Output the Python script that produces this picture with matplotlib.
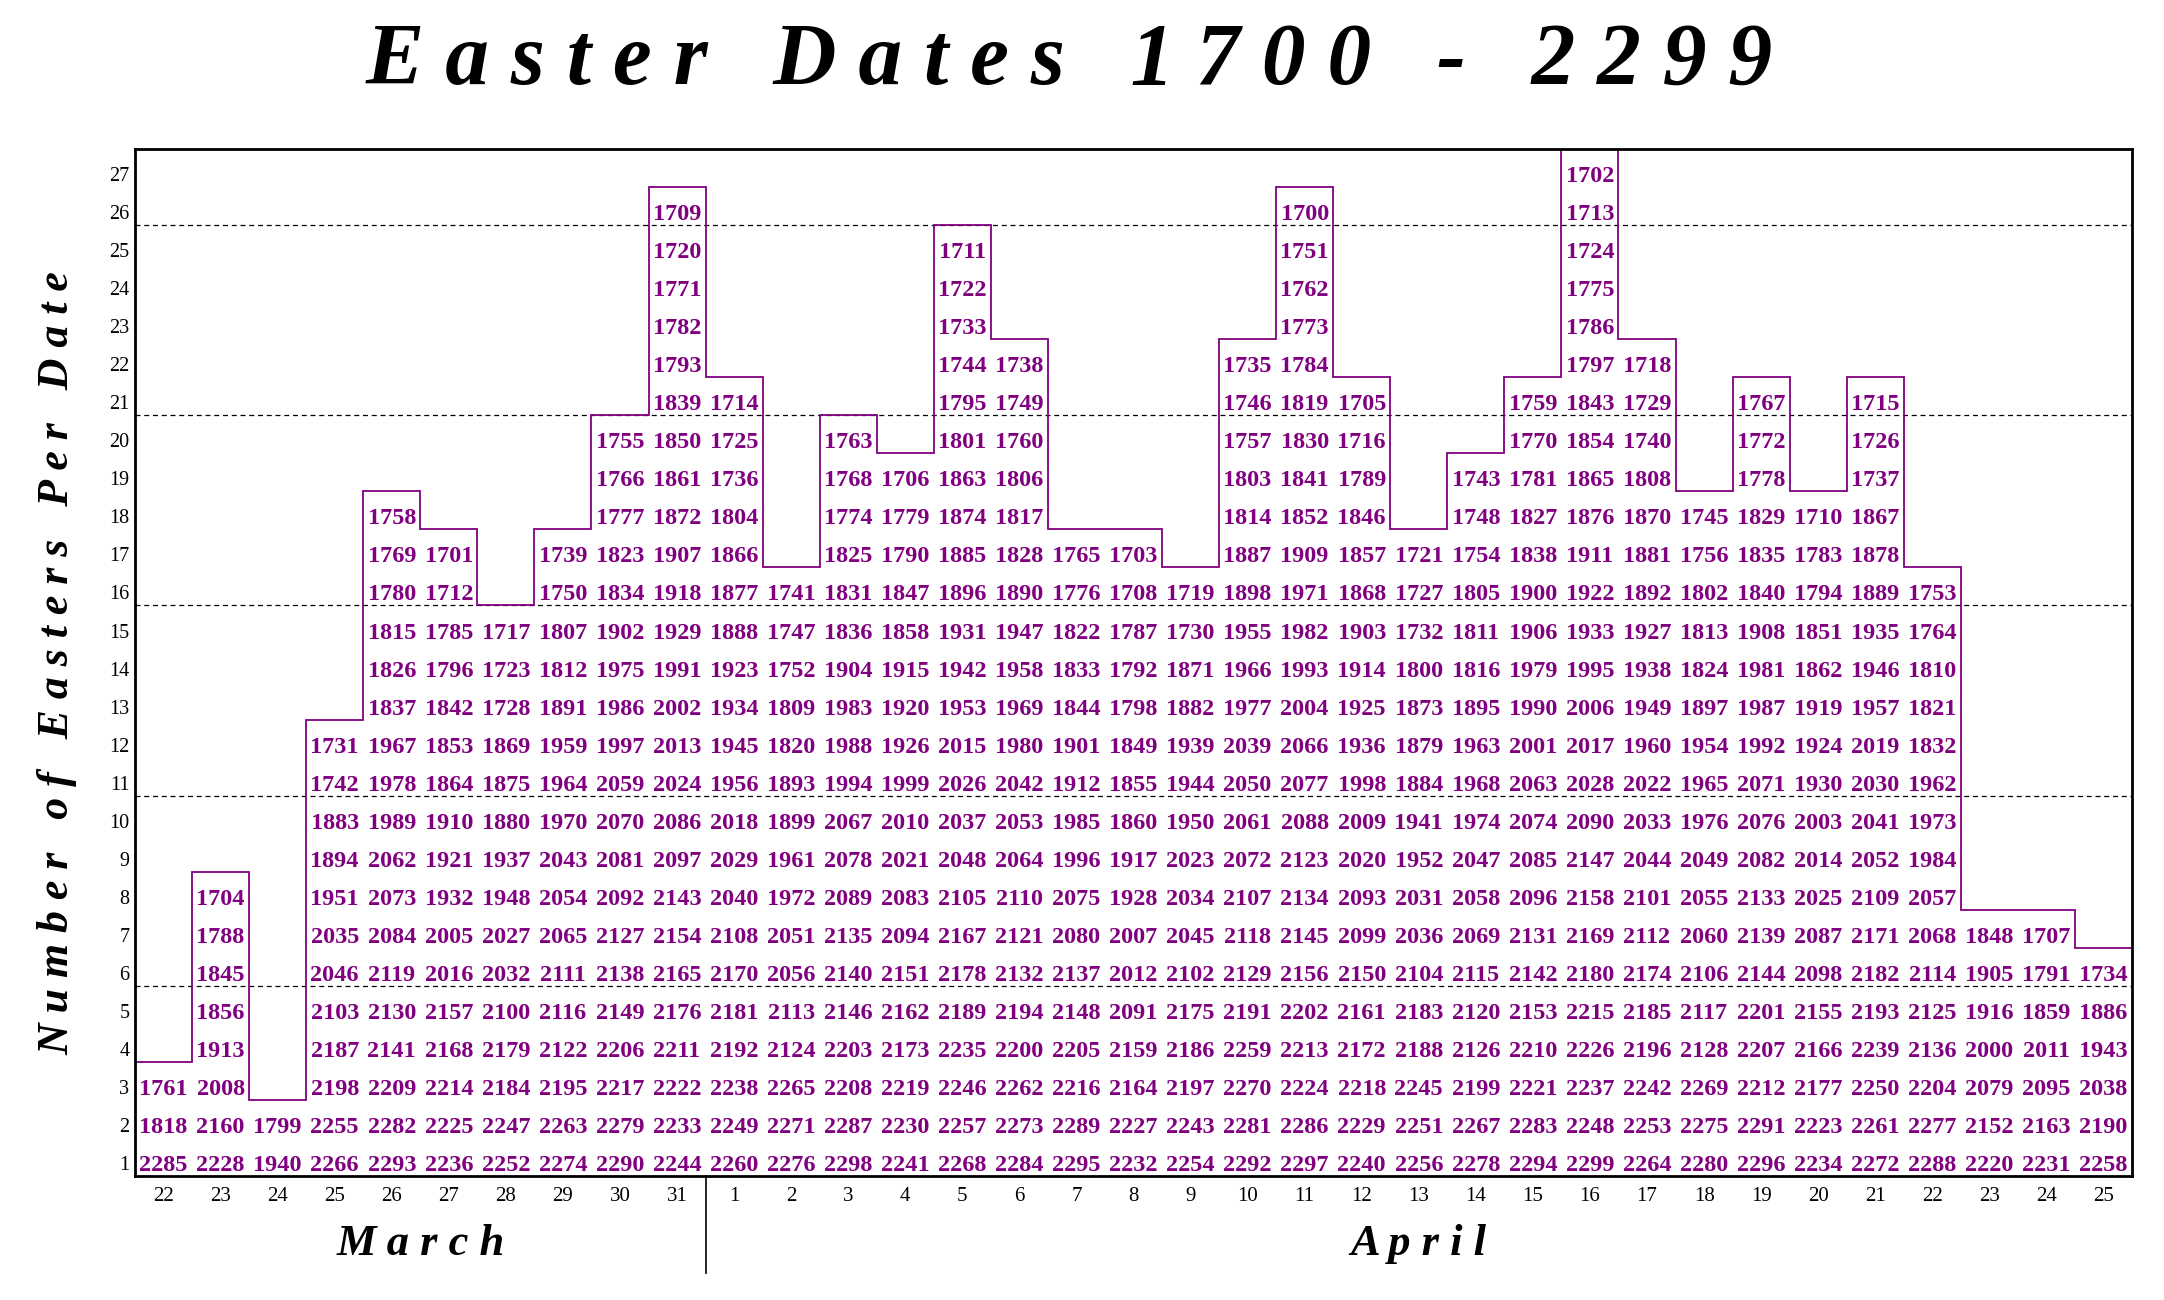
import matplotlib
matplotlib.use("Agg")
import matplotlib.pyplot as plt
import numpy as np
from matplotlib.transforms import blended_transform_factory

PURPLE = "#800080"
SERIF = "Liberation Serif"

MARCH_DAYS = [22, 23, 24, 25, 26, 27, 28, 29, 30, 31]
APRIL_DAYS = [1, 2, 3, 4, 5, 6, 7, 8, 9, 10, 11, 12, 13, 14, 15, 16, 17, 18,
              19, 20, 21, 22, 23, 24, 25]

# years on which Easter fell on each date, listed from the bottom row up
MARCH_YEARS = [
    [2285, 1818, 1761],
    [2228, 2160, 2008, 1913, 1856, 1845, 1788, 1704],
    [1940, 1799],
    [2266, 2255, 2198, 2187, 2103, 2046, 2035, 1951, 1894, 1883, 1742, 1731],
    [2293, 2282, 2209, 2141, 2130, 2119, 2084, 2073, 2062, 1989, 1978, 1967,
     1837, 1826, 1815, 1780, 1769, 1758],
    [2236, 2225, 2214, 2168, 2157, 2016, 2005, 1932, 1921, 1910, 1864, 1853,
     1842, 1796, 1785, 1712, 1701],
    [2252, 2247, 2184, 2179, 2100, 2032, 2027, 1948, 1937, 1880, 1875, 1869,
     1728, 1723, 1717],
    [2274, 2263, 2195, 2122, 2116, 2111, 2065, 2054, 2043, 1970, 1964, 1959,
     1891, 1812, 1807, 1750, 1739],
    [2290, 2279, 2217, 2206, 2149, 2138, 2127, 2092, 2081, 2070, 2059, 1997,
     1986, 1975, 1902, 1834, 1823, 1777, 1766, 1755],
    [2244, 2233, 2222, 2211, 2176, 2165, 2154, 2143, 2097, 2086, 2024, 2013,
     2002, 1991, 1929, 1918, 1907, 1872, 1861, 1850, 1839, 1793, 1782, 1771,
     1720, 1709],
]

APRIL_YEARS = [
    [2260, 2249, 2238, 2192, 2181, 2170, 2108, 2040, 2029, 2018, 1956, 1945,
     1934, 1923, 1888, 1877, 1866, 1804, 1736, 1725, 1714],
    [2276, 2271, 2265, 2124, 2113, 2056, 2051, 1972, 1961, 1899, 1893, 1820,
     1809, 1752, 1747, 1741],
    [2298, 2287, 2208, 2203, 2146, 2140, 2135, 2089, 2078, 2067, 1994, 1988,
     1983, 1904, 1836, 1831, 1825, 1774, 1768, 1763],
    [2241, 2230, 2219, 2173, 2162, 2151, 2094, 2083, 2021, 2010, 1999, 1926,
     1920, 1915, 1858, 1847, 1790, 1779, 1706],
    [2268, 2257, 2246, 2235, 2189, 2178, 2167, 2105, 2048, 2037, 2026, 2015,
     1953, 1942, 1931, 1896, 1885, 1874, 1863, 1801, 1795, 1744, 1733, 1722,
     1711],
    [2284, 2273, 2262, 2200, 2194, 2132, 2121, 2110, 2064, 2053, 2042, 1980,
     1969, 1958, 1947, 1890, 1828, 1817, 1806, 1760, 1749, 1738],
    [2295, 2289, 2216, 2205, 2148, 2137, 2080, 2075, 1996, 1985, 1912, 1901,
     1844, 1833, 1822, 1776, 1765],
    [2232, 2227, 2164, 2159, 2091, 2012, 2007, 1928, 1917, 1860, 1855, 1849,
     1798, 1792, 1787, 1708, 1703],
    [2254, 2243, 2197, 2186, 2175, 2102, 2045, 2034, 2023, 1950, 1944, 1939,
     1882, 1871, 1730, 1719],
    [2292, 2281, 2270, 2259, 2191, 2129, 2118, 2107, 2072, 2061, 2050, 2039,
     1977, 1966, 1955, 1898, 1887, 1814, 1803, 1757, 1746, 1735],
    [2297, 2286, 2224, 2213, 2202, 2156, 2145, 2134, 2123, 2088, 2077, 2066,
     2004, 1993, 1982, 1971, 1909, 1852, 1841, 1830, 1819, 1784, 1773, 1762,
     1751, 1700],
    [2240, 2229, 2218, 2172, 2161, 2150, 2099, 2093, 2020, 2009, 1998, 1936,
     1925, 1914, 1903, 1868, 1857, 1846, 1789, 1716, 1705],
    [2256, 2251, 2245, 2188, 2183, 2104, 2036, 2031, 1952, 1941, 1884, 1879,
     1873, 1800, 1732, 1727, 1721],
    [2278, 2267, 2199, 2126, 2120, 2115, 2069, 2058, 2047, 1974, 1968, 1963,
     1895, 1816, 1811, 1805, 1754, 1748, 1743],
    [2294, 2283, 2221, 2210, 2153, 2142, 2131, 2096, 2085, 2074, 2063, 2001,
     1990, 1979, 1906, 1900, 1838, 1827, 1781, 1770, 1759],
    [2299, 2248, 2237, 2226, 2215, 2180, 2169, 2158, 2147, 2090, 2028, 2017,
     2006, 1995, 1933, 1922, 1911, 1876, 1865, 1854, 1843, 1797, 1786, 1775,
     1724, 1713, 1702],
    [2264, 2253, 2242, 2196, 2185, 2174, 2112, 2101, 2044, 2033, 2022, 1960,
     1949, 1938, 1927, 1892, 1881, 1870, 1808, 1740, 1729, 1718],
    [2280, 2275, 2269, 2128, 2117, 2106, 2060, 2055, 2049, 1976, 1965, 1954,
     1897, 1824, 1813, 1802, 1756, 1745],
    [2296, 2291, 2212, 2207, 2201, 2144, 2139, 2133, 2082, 2076, 2071, 1992,
     1987, 1981, 1908, 1840, 1835, 1829, 1778, 1772, 1767],
    [2234, 2223, 2177, 2166, 2155, 2098, 2087, 2025, 2014, 2003, 1930, 1924,
     1919, 1862, 1851, 1794, 1783, 1710],
    [2272, 2261, 2250, 2239, 2193, 2182, 2171, 2109, 2052, 2041, 2030, 2019,
     1957, 1946, 1935, 1889, 1878, 1867, 1737, 1726, 1715],
    [2288, 2277, 2204, 2136, 2125, 2114, 2068, 2057, 1984, 1973, 1962, 1832,
     1821, 1810, 1764, 1753],
    [2220, 2152, 2079, 2000, 1916, 1905, 1848],
    [2231, 2163, 2095, 2011, 1859, 1791, 1707],
    [2258, 2190, 2038, 1943, 1886, 1734],
]

days = MARCH_DAYS + APRIL_DAYS
columns = MARCH_YEARS + APRIL_YEARS
counts = [len(c) for c in columns]
n_cols = len(columns)
n_rows = max(counts)

fig = plt.figure(figsize=(21.64, 13), dpi=100)
ax = fig.add_axes([0.0624, 0.0954, 0.9228, 0.79])
ax.set_xlim(0, n_cols)
ax.set_ylim(0, n_rows)

for y in range(5, n_rows, 5):
    ax.axhline(y, color="black", lw=0.9, ls=(0, (4, 3)), zorder=1)

ax.stairs(counts, np.arange(n_cols + 1), baseline=None,
          color=PURPLE, lw=1.3, zorder=2)

for i, years in enumerate(columns):
    for row, year in enumerate(years):
        ax.text(i + 0.5, row + 0.13, str(year), ha="center", va="baseline",
                fontsize=17.5, fontweight="bold", family=SERIF, color=PURPLE,
                zorder=3)

ax.set_xticks(np.arange(n_cols) + 0.5)
ax.set_xticklabels([str(d) for d in days], family=SERIF, fontsize=15)
ax.set_yticks(np.arange(n_rows) + 0.34)
ax.set_yticklabels([str(r + 1) for r in range(n_rows)], family=SERIF, fontsize=14.5)
ax.tick_params(axis="both", length=0)
ax.tick_params(axis="x", pad=8)
ax.tick_params(axis="y", pad=4)
for sp in ax.spines.values():
    sp.set_linewidth(2)

# month divider below the axis
trans = blended_transform_factory(ax.transData, ax.transAxes)
split = len(MARCH_DAYS)
ax.plot([split, split], [0, -0.094], transform=trans, color="black",
        lw=1.2, clip_on=False)

ax.text(split / 2, -0.066, "M a r c h", transform=trans, ha="center",
        va="center", fontsize=32, fontweight="bold", style="italic", family=SERIF)
ax.text(split + len(APRIL_DAYS) / 2, -0.066, "A p r i l", transform=trans,
        ha="center", va="center", fontsize=32, fontweight="bold", style="italic",
        family=SERIF)

fig.text(0.494, 0.952, "E a s t e r   D a t e s   1 7 0 0   -   2 2 9 9",
         ha="center", va="center", fontsize=63, fontweight="bold",
         style="italic", family=SERIF)
fig.text(0.0265, 0.49, "N u m b e r   o f   E a s t e r s   P e r   D a t e",
         rotation=90, ha="center", va="center", fontsize=31.5, fontweight="bold",
         style="italic", family=SERIF)

fig.savefig("out.png", dpi=100, facecolor="white")
